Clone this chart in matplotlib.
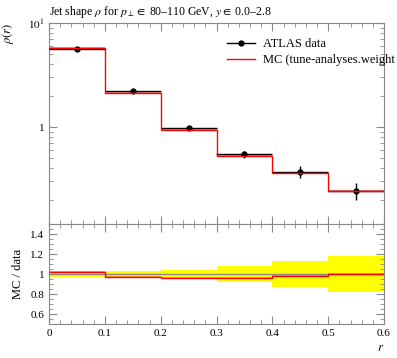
"""Jet shape rho(r), ATLAS data vs MC, with MC/data ratio panel."""

import matplotlib
matplotlib.use("Agg")
import matplotlib.pyplot as plt
import numpy as np
from matplotlib.lines import Line2D
from matplotlib.ticker import MultipleLocator, LogLocator, NullFormatter, FixedLocator

plt.rcParams["font.family"] = ["Liberation Serif", "DejaVu Serif"]
plt.rcParams["mathtext.fontset"] = "stix"

# bin edges in r
r_edges = [0.0, 0.1, 0.2, 0.3, 0.4, 0.5, 0.6]
# ATLAS data rho(r) and relative uncertainties
data_vals = [5.68, 2.20, 0.975, 0.550, 0.370, 0.245]
data_relerr = [0.03, 0.035, 0.045, 0.08, 0.13, 0.18]
# MC / data ratio and MC relative uncertainties
mc_ratio = [1.02, 0.97, 0.965, 0.962, 0.985, 1.0]
mc_relerr = [0.008, 0.008, 0.01, 0.01, 0.015, 0.01]


def main() -> None:
    edges = np.array(r_edges)
    centres = 0.5 * (edges[:-1] + edges[1:])
    halfw = 0.5 * np.diff(edges)
    data = np.array(data_vals)
    derr = data * np.array(data_relerr)
    ratio = np.array(mc_ratio)
    mc = data * ratio
    mcerr = mc * np.array(mc_relerr)

    def stepped(v):
        return np.append(v, v[-1])

    W, H = 397, 358
    fig = plt.figure(figsize=(W / 100, H / 100), dpi=100)
    ax = fig.add_axes([49 / W, (H - 224) / H, 335 / W, 201 / H])
    rx = fig.add_axes([49 / W, (H - 324) / H, 335 / W, 100 / H], sharex=ax)

    grey = "#888888"
    for a in (ax, rx):
        for s in a.spines.values():
            s.set_color(grey)
        a.tick_params(which="both", direction="in", top=True, right=True,
                      color=grey, labelsize=8)
        a.tick_params(which="major", length=6)
        a.tick_params(which="minor", length=3)
        a.xaxis.set_major_locator(MultipleLocator(0.1))
        a.xaxis.set_minor_locator(MultipleLocator(0.02))

    # main panel
    ax.fill_between(edges, stepped(mc - mcerr), stepped(mc + mcerr), step="post",
                    color="red", alpha=0.45, lw=0)
    ax.errorbar(centres, data, xerr=halfw, yerr=derr, fmt="o", color="black",
                ms=3.5, lw=1.0, capsize=0, zorder=3)
    ax.step(edges, stepped(mc), where="post", color="red", lw=1.0, zorder=4)
    ax.set_yscale("log")
    ax.set_ylim(0.117, 10)
    ax.set_xlim(0, 0.6)
    ax.yaxis.set_major_locator(FixedLocator([1, 10]))
    ax.set_yticklabels(["1", "$10^{1}$"])
    ax.yaxis.set_minor_locator(LogLocator(base=10, subs=np.arange(2, 10)))
    ax.yaxis.set_minor_formatter(NullFormatter())
    ax.tick_params(labelbottom=False)
    ax.set_title(r"Jet shape $\rho$ for $p_\perp \in$ 80–110 GeV, $y \in$ 0.0–2.8",
                 loc="left", fontsize=8.5, pad=6)
    ax.set_ylabel(r"$\rho(r)$", fontsize=9, loc="top")
    ax.yaxis.set_label_coords(-0.1, 1.0)

    handles = [
        Line2D([], [], color="black", marker="o", ms=3.5, lw=1.0),
        Line2D([], [], color="red", lw=1.0),
    ]
    labels = ["ATLAS data", "MC (tune-analyses.weight"]
    ax.legend(handles, labels, loc="upper left", bbox_to_anchor=(0.53, 0.925),
              frameon=False, fontsize=9, handlelength=2.3, handletextpad=0.6,
              borderpad=0, borderaxespad=0, labelspacing=0.35)

    # ratio panel
    rx.fill_between(edges, stepped(1 - np.array(data_relerr)),
                    stepped(1 + np.array(data_relerr)), step="post",
                    color="yellow", lw=0)
    rx.axhline(1.0, color=grey, lw=1.0)
    rx.fill_between(edges, stepped(ratio * (1 - np.array(mc_relerr))),
                    stepped(ratio * (1 + np.array(mc_relerr))), step="post",
                    color="red", alpha=0.35, lw=0)
    rx.step(edges, stepped(ratio), where="post", color="red", lw=1.0)
    rx.set_ylim(0.5, 1.5)
    rx.yaxis.set_major_locator(FixedLocator([0.6, 0.8, 1.0, 1.2, 1.4]))
    rx.set_yticklabels(["0.6", "0.8", "1", "1.2", "1.4"])
    rx.yaxis.set_minor_locator(MultipleLocator(0.05))
    rx.xaxis.set_major_locator(FixedLocator([0, 0.1, 0.2, 0.3, 0.4, 0.5, 0.6]))
    rx.set_xticklabels(["0", "0.1", "0.2", "0.3", "0.4", "0.5", "0.6"])
    rx.set_ylabel("MC / data", fontsize=9)
    rx.yaxis.set_label_coords(-0.075, 0.5)
    rx.set_xlabel(r"$r$", fontsize=9, loc="right")
    rx.xaxis.labelpad = 3

    fig.savefig("out.png", dpi=100)
    plt.close(fig)


if __name__ == "__main__":
    main()
